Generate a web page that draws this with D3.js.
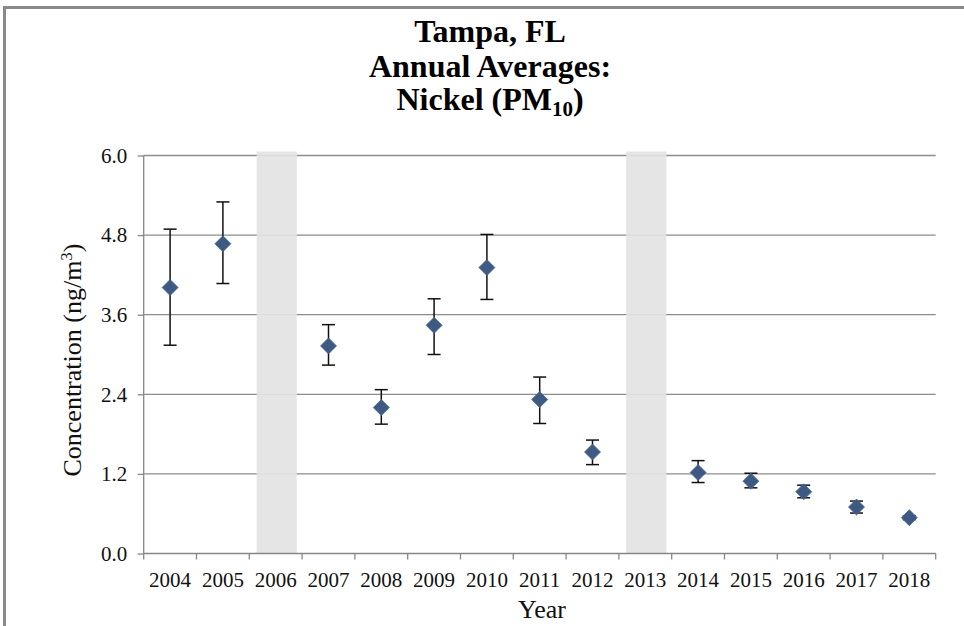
<!DOCTYPE html>
<html>
<head>
<meta charset="utf-8">
<script src="https://cdn.jsdelivr.net/npm/d3@7"></script>
<style>
  body { margin: 0; background: #fff; }
  svg { display: block; font-family: "Liberation Serif", "Times New Roman", serif; }
</style>
</head>
<body>
<div id="chart"></div>
<script>
// annual averages, ng/m3 (null = no data that year)
var years = [2004, 2005, 2006, 2007, 2008, 2009, 2010, 2011, 2012, 2013, 2014, 2015, 2016, 2017, 2018];
var means = [4.01, 4.67, null, 3.13, 2.20, 3.44, 4.31, 2.32, 1.53, null, 1.22, 1.09, 0.93, 0.70, 0.54];
var lower = [3.14, 4.07, null, 2.84, 1.95, 3.00, 3.83, 1.96, 1.34, null, 1.07, 0.99, 0.84, 0.61, 0.51];
var upper = [4.89, 5.30, null, 3.45, 2.47, 3.84, 4.81, 2.66, 1.71, null, 1.40, 1.21, 1.03, 0.79, 0.57];
var missingYears = [2006, 2013];
var yTicks = [0, 1.2, 2.4, 3.6, 4.8, 6.0];

var width = 964, height = 626;
var margin = {top: 155.5, right: 28.3, bottom: 72.5, left: 143.7};
var w = width - margin.left - margin.right,
    h = height - margin.top - margin.bottom;

var svg = d3.select("#chart")
    .append("svg")
        .attr("width", width)
        .attr("height", height);

// outer frame (only top and left edges fall inside the picture)
svg.append("rect")
    .attr("x", 4.5)
    .attr("y", 7.5)
    .attr("width", width + 20)
    .attr("height", height + 20)
    .style("fill", "none")
    .style("stroke", "#8a8a8a")
    .style("stroke-width", 3);

var g = svg.append("g")
    .attr("transform", "translate(" + margin.left + "," + margin.top + ")");

var x = d3.scaleBand().domain(years).range([0, w]).padding(0);
var y = d3.scaleLinear().domain([0, 6]).range([h, 0]);

// gridlines
g.selectAll(".grid")
    .data(yTicks.slice(1))
    .enter()
    .append("line")
    .attr("x1", 0)
    .attr("x2", w)
    .attr("y1", function(d) { return y(d); })
    .attr("y2", function(d) { return y(d); })
    .style("stroke", "#8c8c8c")
    .style("stroke-width", 1.3);

// shaded years with no data
var gapRatio = 0.76;
g.selectAll(".missing")
    .data(missingYears)
    .enter()
    .append("rect")
    .attr("x", function(d) { return x(d) + x.bandwidth() * (1 - gapRatio) / 2 + 1; })
    .attr("y", y(6.06))
    .attr("width", x.bandwidth() * gapRatio)
    .attr("height", y(0) - y(6.06))
    .style("fill", "#e3e3e3")
    .style("opacity", 0.92);

// y axis
var yAxis = g.append("g")
    .call(d3.axisLeft(y).tickValues(yTicks).tickFormat(d3.format(".1f")).tickSize(6).tickPadding(10.5));
yAxis.select(".domain").style("stroke", "#868686").style("stroke-width", 1.3).attr("d", "M0," + y(6) + "V" + h);
yAxis.selectAll(".tick line").style("stroke", "#868686").style("stroke-width", 1.3);
yAxis.selectAll("text")
    .style("font-family", "Liberation Serif, serif")
    .style("font-size", "21px")
    .style("fill", "#111");

// x axis: labels centred in each band, ticks on band edges
var xAxis = g.append("g")
    .attr("transform", "translate(0," + h + ")")
    .call(d3.axisBottom(x).tickSize(0).tickPadding(18.5));
xAxis.select(".domain").style("stroke", "#868686").style("stroke-width", 1.3).attr("d", "M0,0H" + w);
xAxis.selectAll("text")
    .style("font-family", "Liberation Serif, serif")
    .style("font-size", "21px")
    .style("fill", "#111");

var edges = years.map(function(d) { return x(d); }).concat([w]);
xAxis.selectAll(".edge")
    .data(edges)
    .enter()
    .append("line")
    .attr("x1", function(d) { return d; })
    .attr("x2", function(d) { return d; })
    .attr("y1", 0)
    .attr("y2", 6)
    .style("stroke", "#868686")
    .style("stroke-width", 1.3);

// error bars
var rows = years.map(function(d, i) {
    return {year: d, mean: means[i], lo: lower[i], hi: upper[i]};
}).filter(function(d) { return d.mean !== null; });

var cx = function(d) { return x(d.year) + x.bandwidth() / 2; };
var cap = 6.5;

var bars = g.selectAll(".err")
    .data(rows)
    .enter()
    .append("g")
    .style("stroke", "#111")
    .style("stroke-width", 1.5);
bars.append("line")
    .attr("x1", cx).attr("x2", cx)
    .attr("y1", function(d) { return y(d.lo); })
    .attr("y2", function(d) { return y(d.hi); });
bars.append("line")
    .attr("x1", function(d) { return cx(d) - cap; })
    .attr("x2", function(d) { return cx(d) + cap; })
    .attr("y1", function(d) { return y(d.hi); })
    .attr("y2", function(d) { return y(d.hi); });
bars.append("line")
    .attr("x1", function(d) { return cx(d) - cap; })
    .attr("x2", function(d) { return cx(d) + cap; })
    .attr("y1", function(d) { return y(d.lo); })
    .attr("y2", function(d) { return y(d.lo); });

// diamond markers
var r = 8;
g.selectAll(".dot")
    .data(rows)
    .enter()
    .append("path")
    .attr("d", function(d) {
        var px = cx(d), py = y(d.mean);
        return "M" + px + "," + (py - r) + "L" + (px + r) + "," + py +
               "L" + px + "," + (py + r) + "L" + (px - r) + "," + py + "Z";
    })
    .style("fill", "#3e5a83")
    .style("stroke", "#4a6894")
    .style("stroke-width", 0.8);

// title
var title = svg.append("text")
    .attr("x", 490)
    .attr("y", 42)
    .style("text-anchor", "middle")
    .style("font-weight", "bold")
    .style("font-size", "32px")
    .style("fill", "#000");
title.append("tspan").attr("x", 490).attr("y", 42).text("Tampa, FL");
title.append("tspan").attr("x", 490).attr("y", 77).text("Annual Averages:");
var line3 = svg.append("text")
    .attr("x", 490)
    .attr("y", 110)
    .style("text-anchor", "middle")
    .style("font-weight", "bold")
    .style("font-size", "32px")
    .style("fill", "#000");
line3.append("tspan").text("Nickel (PM");
line3.append("tspan").attr("dy", 6).style("font-size", "21px").text("10");
line3.append("tspan").attr("dy", -6).text(")");

// axis titles
svg.append("text")
    .attr("x", 542)
    .attr("y", 618)
    .style("text-anchor", "middle")
    .style("font-size", "26px")
    .style("fill", "#111")
    .text("Year");

var ylab = svg.append("text")
    .attr("transform", "translate(81,360) rotate(-90)")
    .style("text-anchor", "middle")
    .style("font-size", "26px")
    .style("fill", "#111");
ylab.append("tspan").text("Concentration (ng/m");
ylab.append("tspan").attr("dy", -9).style("font-size", "17px").text("3");
ylab.append("tspan").attr("dy", 9).text(")");
</script>
</body>
</html>
